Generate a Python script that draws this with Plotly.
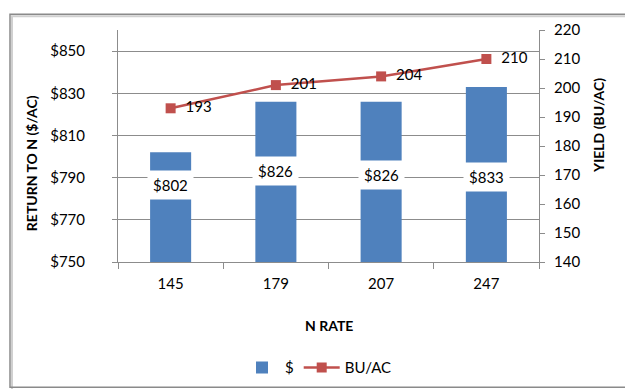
import plotly.graph_objects as go

n_rate = ["145", "179", "207", "247"]
returns = [802, 826, 826, 833]
yield_bu = [193, 201, 204, 210]
return_labels = ["$802", "$826", "$826", "$833"]
label_y = [786.7, 793.0, 791.2, 790.2]

FONT = "Lato, Liberation Sans, sans-serif"
BLUE = "#4F81BD"
RED = "#C0504D"
GRID = "#8C8C8C"

W, H = 633, 389
L, R, T, B = 110, 102, 19, 133
pw, ph = W - L - R, H - T - B

def px(x):
    return (x - L) / pw

def py(y):
    return (H - B - y) / ph

fig = go.Figure()
fig.add_trace(go.Bar(
    x=n_rate, y=returns, name="$", marker=dict(color=BLUE, line=dict(width=0)),
    width=0.39, yaxis="y",
))
fig.add_trace(go.Scatter(
    x=n_rate, y=yield_bu, name="BU/AC", yaxis="y2", mode="lines+markers+text",
    line=dict(color=RED, width=2.5),
    marker=dict(symbol="square", size=10, color=RED),
    text=["  " + str(v) for v in yield_bu], textposition="middle right",
    textfont=dict(family=FONT, size=15, color="#000"),
))

for i, (lab, yy) in enumerate(zip(return_labels, label_y)):
    fig.add_annotation(x=i, y=yy, xref="x", yref="y", text=lab, showarrow=False,
                       bgcolor="white", font=dict(family=FONT, size=15, color="#000"),
                       borderpad=5)

# axis titles
fig.add_annotation(x=px(23), y=py(155), xref="paper", yref="paper",
                   xanchor="center", yanchor="middle",
                   text="<b>RETURN TO N ($/AC)</b>", textangle=-90, showarrow=False,
                   font=dict(family=FONT, size=14, color="#000"))
fig.add_annotation(x=px(591), y=py(117), xref="paper", yref="paper",
                   xanchor="center", yanchor="middle",
                   text="<b>YIELD (BU/AC)</b>", textangle=-90, showarrow=False,
                   font=dict(family=FONT, size=14, color="#000"))
fig.add_annotation(x=px(321), y=py(321), xref="paper", yref="paper",
                   xanchor="center", yanchor="middle",
                   text="<b>N RATE</b>", showarrow=False,
                   font=dict(family=FONT, size=14, color="#000"))

# outer border + shadow
fig.add_shape(type="rect", xref="paper", yref="paper",
              x0=px(4), x1=px(631), y0=py(387), y1=py(5),
              line=dict(color="#D0D0D0", width=2), layer="below")
fig.add_shape(type="rect", xref="paper", yref="paper",
              x0=px(2), x1=px(628), y0=py(384), y1=py(3),
              line=dict(color="#8A8A8A", width=1.5), layer="below")

fig.update_layout(
    width=W, height=H,
    margin=dict(l=L, r=R, t=T, b=B),
    paper_bgcolor="white", plot_bgcolor="white",
    font=dict(family=FONT, size=15, color="#000"),
    showlegend=True,
    legend=dict(orientation="h", x=px(310), xanchor="center", y=py(364), yanchor="middle",
                font=dict(family=FONT, size=15), traceorder="normal", itemwidth=36),
    xaxis=dict(type="category", range=[-0.5, 3.5], showline=True, linecolor=GRID, linewidth=1,
               ticks="outside", tickson="boundaries", ticklen=6, tickcolor=GRID,
               showgrid=False, tickfont=dict(family=FONT, size=15), tickangle=0,
               ticklabelstandoff=8),
    yaxis=dict(range=[750, 860], tickvals=[750, 770, 790, 810, 830, 850],
               ticktext=["$750", "$770", "$790", "$810", "$830", "$850"],
               showline=True, linecolor=GRID, linewidth=1,
               ticks="outside", ticklen=5, tickcolor=GRID,
               showgrid=True, gridcolor=GRID, gridwidth=1, zeroline=False,
               tickfont=dict(family=FONT, size=15), ticklabelstandoff=24),
    yaxis2=dict(range=[140, 220], dtick=10, overlaying="y", side="right",
                showline=True, linecolor=GRID, linewidth=1,
                ticks="outside", ticklen=5, tickcolor=GRID,
                showgrid=False, zeroline=False, tickfont=dict(family=FONT, size=15),
                ticklabelstandoff=6),
)

fig.write_html("out.html")
